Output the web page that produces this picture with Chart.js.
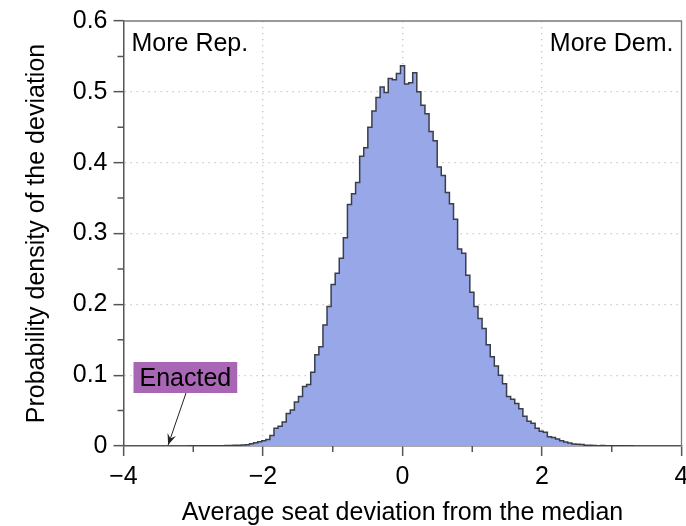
<!DOCTYPE html>
<html>
<head>
<meta charset="utf-8">
<script src="https://cdn.jsdelivr.net/npm/chart.js@4.4.1/dist/chart.umd.min.js"></script>
<style>
html, body { margin: 0; padding: 0; background: #ffffff; }
</style>
</head>
<body>
<canvas id="myChart" width="686" height="526"></canvas>
<script>
"use strict";

// histogram: left edge of the first bin, bin width, density of each bin
const binStart = -3.071;
const binWidth = 0.0585;
const density = [
    0.0001, 0.0001, 0.0001, 0.0002, 0.0002, 0.0003, 0.0003, 0.0004, 0.0005, 0.0006,
    0.0007, 0.0009, 0.0011, 0.0014, 0.0018, 0.0032, 0.0046, 0.0060, 0.0074, 0.0093,
    0.015, 0.025, 0.028, 0.034, 0.046, 0.051, 0.062, 0.070,
    0.084, 0.087, 0.104, 0.129, 0.140, 0.171, 0.197, 0.228, 0.244, 0.265,
    0.294, 0.341, 0.356, 0.372, 0.409, 0.421, 0.450, 0.473, 0.492, 0.507,
    0.499, 0.519, 0.517, 0.526, 0.537, 0.511, 0.513, 0.527, 0.500, 0.481,
    0.469, 0.444, 0.431, 0.394, 0.382, 0.358, 0.342, 0.320, 0.278, 0.272,
    0.241, 0.217, 0.197, 0.180, 0.166, 0.143, 0.126, 0.113, 0.100, 0.088,
    0.070, 0.066,
    0.060, 0.0525, 0.042, 0.035, 0.032, 0.025, 0.021, 0.0195, 0.013, 0.012,
    0.0098, 0.0074, 0.0056, 0.0042, 0.0028, 0.0023, 0.0020, 0.0012, 0.0010,
    0.0007, 0.0005, 0.0006, 0.0004, 0.0003, 0.0003, 0.0002, 0.0002, 0.0001, 0.0001
];

const xTicks = [-4, -2, 0, 2, 4];
const xMinorTicks = [-3, -1, 1, 3];
const yTicks = [0, 0.1, 0.2, 0.3, 0.4, 0.5, 0.6];
const yMinorTicks = [0.05, 0.15, 0.25, 0.35, 0.45, 0.55];

const enactedDeviation = -3.36;
const enactedLabel = 'Enacted';
const leftCornerLabel = 'More Rep.';
const rightCornerLabel = 'More Dem.';
const xTitle = 'Average seat deviation from the median';
const yTitle = 'Probability density of the deviation';

const fontFamily = '"Liberation Sans", Arial, Helvetica, sans-serif';
const axisColor = '#555555';
const gridColor = '#c4c4c4';


function buildPoints() {
    const points = [{x: binStart, y: 0}];
    density.forEach((d, i) => points.push({x: binStart + i * binWidth, y: d}));
    points.push({x: binStart + density.length * binWidth, y: 0});
    return points;
}

function edgeAware(edges) {
    return ctx => (ctx.tick && edges.includes(ctx.tick.value)) ? 'rgba(0,0,0,0)' : gridColor;
}

const decorations = {
    id: 'decorations',
    afterDraw(chart) {
        const {ctx, chartArea: a, scales: {x, y}} = chart;
        ctx.save();

        // frame on top and right
        ctx.strokeStyle = '#7a7a7a';
        ctx.lineWidth = 1.3;
        ctx.beginPath();
        ctx.moveTo(a.left, a.top);
        ctx.lineTo(a.right, a.top);
        ctx.lineTo(a.right, a.bottom);
        ctx.stroke();

        // minor ticks
        ctx.strokeStyle = axisColor;
        ctx.lineWidth = 1.5;
        ctx.beginPath();
        xMinorTicks.forEach(v => {
            const px = x.getPixelForValue(v);
            ctx.moveTo(px, a.bottom);
            ctx.lineTo(px, a.bottom + 6);
        });
        yMinorTicks.forEach(v => {
            const py = y.getPixelForValue(v);
            ctx.moveTo(a.left - 6, py);
            ctx.lineTo(a.left, py);
        });
        ctx.stroke();

        // corner labels
        ctx.fillStyle = '#000000';
        ctx.font = '25px ' + fontFamily;
        ctx.textBaseline = 'alphabetic';
        ctx.textAlign = 'left';
        ctx.fillText(leftCornerLabel, a.left + 8, a.top + 30);
        ctx.textAlign = 'right';
        ctx.fillText(rightCornerLabel, a.right - 8, a.top + 30);

        // enacted annotation
        ctx.textAlign = 'left';
        const tw = ctx.measureText(enactedLabel).width;
        const bx = a.left + 10, by = 362, bh = 31;
        ctx.fillStyle = '#a866b4';
        ctx.fillRect(bx, by, tw + 12, bh);
        ctx.fillStyle = '#000000';
        ctx.fillText(enactedLabel, bx + 6, by + 24);

        const tipX = x.getPixelForValue(enactedDeviation);
        const tipY = y.getPixelForValue(0) - 1;
        const sx = 186, sy = by + bh;
        ctx.strokeStyle = '#222222';
        ctx.lineWidth = 1;
        ctx.beginPath();
        ctx.moveTo(sx, sy);
        ctx.lineTo(tipX, tipY);
        ctx.stroke();
        const ang = Math.atan2(tipY - sy, tipX - sx);
        ctx.fillStyle = '#222222';
        ctx.beginPath();
        ctx.moveTo(tipX, tipY);
        ctx.lineTo(tipX - 12 * Math.cos(ang - 0.38), tipY - 12 * Math.sin(ang - 0.38));
        ctx.lineTo(tipX - 7 * Math.cos(ang), tipY - 7 * Math.sin(ang));
        ctx.lineTo(tipX - 12 * Math.cos(ang + 0.38), tipY - 12 * Math.sin(ang + 0.38));
        ctx.closePath();
        ctx.fill();

        ctx.restore();
    }
};

function createChart() {
    return new Chart(document.getElementById('myChart'), {
        type: 'line',
        data: {
            datasets: [{
                data: buildPoints(),
                stepped: true,
                fill: 'origin',
                borderColor: '#3a3e4a',
                borderWidth: 1.5,
                backgroundColor: '#97a7e8',
                pointRadius: 0,
                tension: 0,
            }]
        },
        options: {
            responsive: false,
            animation: false,
            layout: {padding: {top: 15.5, right: 0, left: 0, bottom: 0}},
            plugins: {legend: {display: false}, tooltip: {enabled: false}},
            scales: {
                x: {
                    type: 'linear',
                    min: -4,
                    max: 4,
                    afterBuildTicks: scale => { scale.ticks = xTicks.map(value => ({value})); },
                    afterFit: scale => { scale.height = 80; scale.paddingRight = 4.5; },
                    ticks: {
                        color: '#000000',
                        font: {family: fontFamily, size: 25},
                        padding: 6,
                        maxRotation: 0,
                        callback: v => String(v).replace('-', '\u2212'),
                    },
                    grid: {
                        color: edgeAware([-4, 4]),
                        lineWidth: 1.3,
                        tickColor: axisColor,
                        tickWidth: 1.5,
                        tickLength: 10,
                    },
                    border: {color: axisColor, width: 1.5, dash: [1.3, 4.7]},
                    title: {
                        display: true,
                        text: xTitle,
                        color: '#000000',
                        font: {family: fontFamily, size: 25},
                        padding: {top: 0, bottom: -2},
                    },
                },
                y: {
                    min: 0,
                    max: 0.6,
                    afterBuildTicks: scale => { scale.ticks = yTicks.map(value => ({value})); },
                    afterFit: scale => { scale.width = 123.5; },
                    ticks: {
                        color: '#000000',
                        font: {family: fontFamily, size: 25},
                        padding: 6,
                        callback: v => (v === 0 ? '0' : v.toFixed(1)),
                    },
                    grid: {
                        color: edgeAware([0, 0.6]),
                        lineWidth: 1.3,
                        tickColor: axisColor,
                        tickWidth: 1.5,
                        tickLength: 10,
                    },
                    border: {color: axisColor, width: 1.5, dash: [1.3, 4.7]},
                    title: {
                        display: true,
                        text: yTitle,
                        color: '#000000',
                        font: {family: fontFamily, size: 25},
                        padding: {top: 22, bottom: 0},
                    },
                },
            },
        },
        plugins: [decorations],
    });
}

createChart();
</script>
</body>
</html>
